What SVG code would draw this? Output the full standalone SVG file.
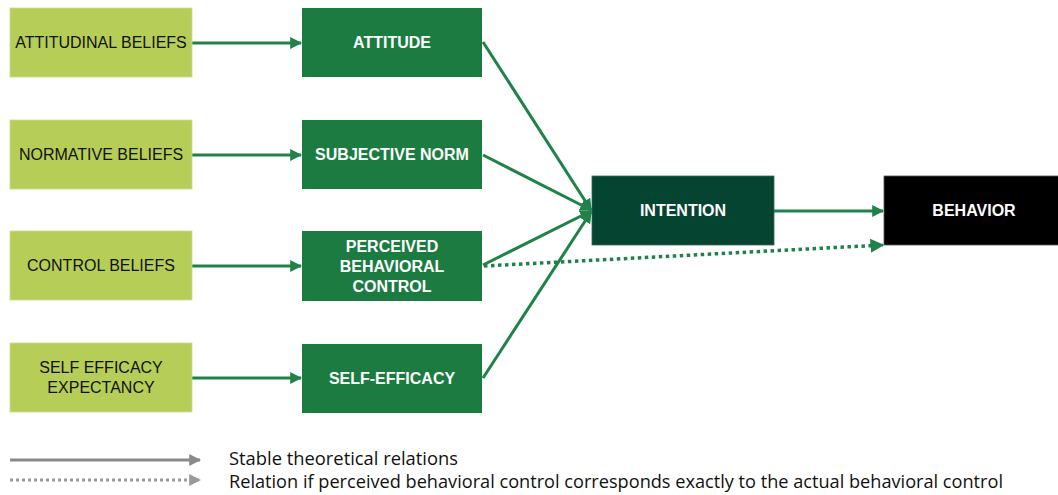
<svg xmlns="http://www.w3.org/2000/svg" width="1058" height="495" viewBox="0 0 1058 495">
<style>
.lb{fill:#b6cd57;stroke:#cfdc99;stroke-width:0.8}
.db{fill:#1b7b41}
.lt{font-family:"Liberation Sans",Arial,sans-serif;font-size:16px;fill:#111;text-anchor:middle}
.dt{font-family:"Liberation Sans",Arial,sans-serif;font-size:16px;font-weight:bold;fill:#fff;text-anchor:middle}
.c{stroke:#1e8249;stroke-width:3;fill:none}
.d{stroke:#1e8249;stroke-width:3.5;fill:none;stroke-dasharray:3.5 3.5}
.leg{font-family:"Open Sans","Liberation Sans",sans-serif;font-size:17.5px;fill:#111}
</style>
<defs>
<marker id="ah" viewBox="0 0 10 10" refX="9" refY="5" markerWidth="4" markerHeight="4" orient="auto" markerUnits="strokeWidth">
<path d="M0,0 L10,5 L0,10 z" fill="#1e8249"/>
</marker>
<marker id="ag" viewBox="0 0 10 10" refX="9" refY="5" markerWidth="4" markerHeight="4" orient="auto" markerUnits="strokeWidth">
<path d="M0,0 L10,5 L0,10 z" fill="#8a8a8a"/>
</marker>
<marker id="ag2" viewBox="0 0 10 10" refX="9" refY="5" markerWidth="4" markerHeight="4" orient="auto" markerUnits="strokeWidth">
<path d="M0,0 L10,5 L0,10 z" fill="#9a9a9a"/>
</marker>
</defs>
<g id="connectors">
<line class="c" x1="192" y1="43" x2="301" y2="43" marker-end="url(#ah)"/>
<line class="c" x1="192" y1="155" x2="301" y2="155" marker-end="url(#ah)"/>
<line class="c" x1="192" y1="266" x2="301" y2="266" marker-end="url(#ah)"/>
<line class="c" x1="192" y1="378" x2="301" y2="378" marker-end="url(#ah)"/>
<line class="c" x1="483" y1="42" x2="591" y2="210" marker-end="url(#ah)"/>
<line class="c" x1="483" y1="155" x2="591" y2="210" marker-end="url(#ah)"/>
<line class="c" x1="483" y1="265" x2="591" y2="211" marker-end="url(#ah)"/>
<line class="c" x1="483" y1="378" x2="591" y2="212" marker-end="url(#ah)"/>
<line class="c" x1="774" y1="211" x2="883" y2="211" marker-end="url(#ah)"/>
<line class="d" x1="484" y1="266" x2="883" y2="245" marker-end="url(#ah)"/>
</g>
<g id="n-attitudinal"><rect class="lb" x="10" y="8" width="182" height="69"/><text class="lt" x="101" y="48">ATTITUDINAL BELIEFS</text></g>
<g id="n-normative"><rect class="lb" x="10" y="120" width="182" height="69"/><text class="lt" x="101" y="160">NORMATIVE BELIEFS</text></g>
<g id="n-control"><rect class="lb" x="10" y="231" width="182" height="69"/><text class="lt" x="101" y="271">CONTROL BELIEFS</text></g>
<g id="n-selfexp"><rect class="lb" x="10" y="343" width="182" height="69"/><text class="lt" x="101" y="373">SELF EFFICACY</text><text class="lt" x="101" y="393">EXPECTANCY</text></g>
<g id="n-attitude"><rect class="db" x="302" y="8" width="180" height="69"/><text class="dt" x="392" y="48">ATTITUDE</text></g>
<g id="n-norm"><rect class="db" x="302" y="120" width="180" height="69"/><text class="dt" x="392" y="160">SUBJECTIVE NORM</text></g>
<g id="n-pbc"><rect class="db" x="302" y="231" width="180" height="70"/><text class="dt" x="392" y="252">PERCEIVED</text><text class="dt" x="392" y="272">BEHAVIORAL</text><text class="dt" x="392" y="292">CONTROL</text></g>
<g id="n-selfeff"><rect class="db" x="302" y="344" width="180" height="69"/><text class="dt" x="392" y="384">SELF-EFFICACY</text></g>
<g id="n-intention"><rect x="592" y="176" width="182" height="69" fill="#054430" stroke="#3a6a55" stroke-width="0.8"/><text class="dt" x="683" y="216">INTENTION</text></g>
<g id="n-behavior"><rect x="884" y="176" width="176" height="69" fill="#000" stroke="#555" stroke-width="0.8"/><text class="dt" x="974" y="216">BEHAVIOR</text></g>
<g id="legend">
<line x1="10" y1="460" x2="200" y2="460" stroke="#8a8a8a" stroke-width="3" marker-end="url(#ag)"/>
<line x1="10" y1="480" x2="200" y2="480" stroke="#9a9a9a" stroke-width="3" stroke-dasharray="3 3" marker-end="url(#ag2)"/>
<text class="leg" x="229" y="465" textLength="229" lengthAdjust="spacingAndGlyphs">Stable theoretical relations</text>
<text class="leg" x="229" y="488" textLength="774" lengthAdjust="spacingAndGlyphs">Relation if perceived behavioral control corresponds exactly to the actual behavioral control</text>
</g>
</svg>
